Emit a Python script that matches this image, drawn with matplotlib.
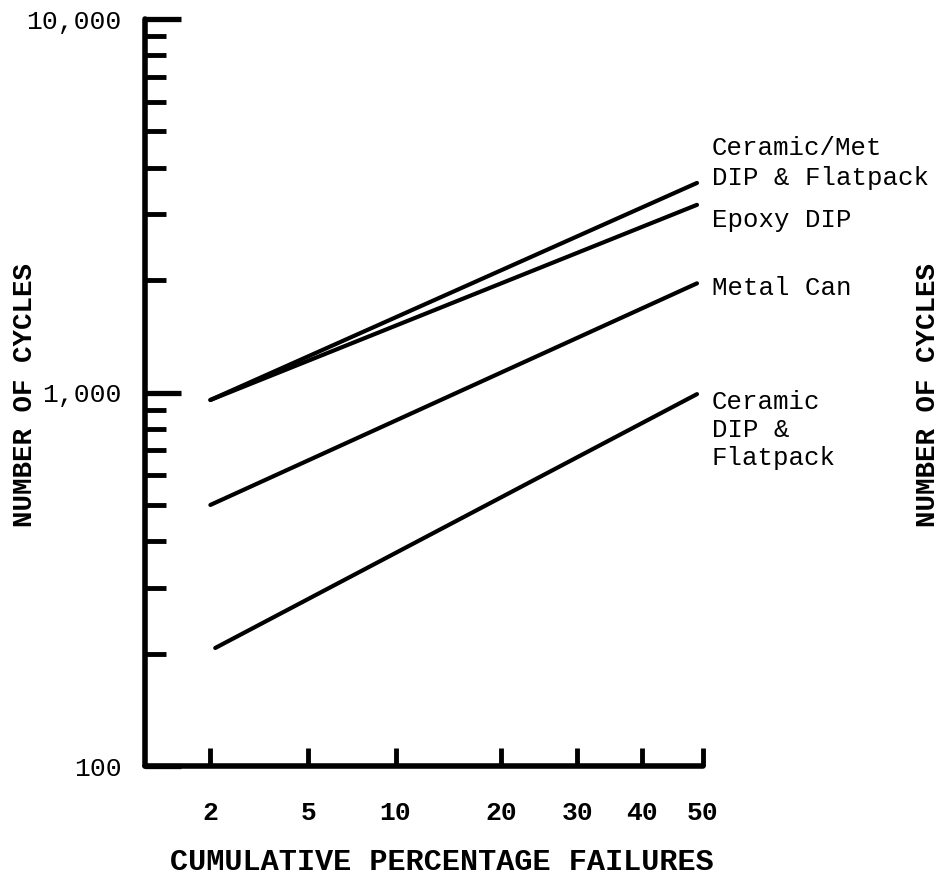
import math
import numpy as np
import matplotlib
matplotlib.use("Agg")
import matplotlib.pyplot as plt
from matplotlib.ticker import FixedLocator, FixedFormatter, NullFormatter

# ---- data ----
series_names = ["Ceramic/Met\nDIP & Flatpack", "Epoxy DIP", "Metal Can", "Ceramic\nDIP &\nFlatpack"]
x_start = [2.0, 2.0, 2.0, 2.1]          # cumulative % failures at line start
x_end = [49.0, 49.0, 49.0, 49.0]        # cumulative % failures at line end
cycles_start = [955, 955, 500, 207]     # number of cycles at start
cycles_end = [3640, 3180, 1960, 990]    # number of cycles at end

x_ticks = [2, 5, 10, 20, 30, 40, 50]
x_tick_labels = ["2", "5", "10", "20", "30", "40", "50"]
y_major = [100, 1000, 10000]
y_major_labels = ["100", "1,000", "10,000"]
y_minor = [200, 300, 400, 500, 600, 700, 800, 900,
           2000, 3000, 4000, 5000, 6000, 7000, 8000, 9000]

# ---- normal probability scale ----
_a = [-3.969683028665376e+01, 2.209460984245205e+02, -2.759285104469687e+02,
      1.383577518672690e+02, -3.066479806614716e+01, 2.506628277459239e+00]
_b = [-5.447609879822406e+01, 1.615858368580409e+02, -1.556989798598866e+02,
      6.680131188771972e+01, -1.328068155288572e+01]
_c = [-7.784894002430293e-03, -3.223964580411365e-01, -2.400758277161838e+00,
      -2.549732539343734e+00, 4.374664141464968e+00, 2.938163982698783e+00]
_d = [7.784695709041462e-03, 3.224671290700398e-01, 2.445134137142996e+00,
      3.754408661907416e+00]


def norm_ppf(p):
    p = np.clip(np.asarray(p, dtype=float), 1e-12, 1 - 1e-12)
    plow = 0.02425
    q_low = np.sqrt(-2 * np.log(np.minimum(p, 0.5)))
    low = (((((_c[0]*q_low+_c[1])*q_low+_c[2])*q_low+_c[3])*q_low+_c[4])*q_low+_c[5]) / \
          ((((_d[0]*q_low+_d[1])*q_low+_d[2])*q_low+_d[3])*q_low+1)
    q_hi = np.sqrt(-2 * np.log(np.minimum(1 - p, 0.5)))
    hi = -(((((_c[0]*q_hi+_c[1])*q_hi+_c[2])*q_hi+_c[3])*q_hi+_c[4])*q_hi+_c[5]) / \
          ((((_d[0]*q_hi+_d[1])*q_hi+_d[2])*q_hi+_d[3])*q_hi+1)
    q = p - 0.5
    r = q * q
    mid = (((((_a[0]*r+_a[1])*r+_a[2])*r+_a[3])*r+_a[4])*r+_a[5])*q / \
          (((((_b[0]*r+_b[1])*r+_b[2])*r+_b[3])*r+_b[4])*r+1)
    return np.where(p < plow, low, np.where(p > 1 - plow, hi, mid))


_erf = np.vectorize(math.erf)


def fwd(x):
    return norm_ppf(np.asarray(x, dtype=float) / 100.0)


def inv(z):
    z = np.asarray(z, dtype=float)
    return 100.0 * 0.5 * (1 + _erf(z / math.sqrt(2)))


# ---- figure ----
FONT = "Liberation Mono"
plt.rcParams["font.family"] = [FONT, "DejaVu Sans"]

fig = plt.figure(figsize=(9.4, 8.91), dpi=100)
ax = fig.add_axes([145 / 940, 1 - 766 / 891, (703 - 145) / 940, (766 - 19) / 891])

ax.set_xscale("function", functions=(fwd, inv))
ax.set_yscale("log")
ax.set_xlim(1, 50)
ax.set_ylim(100, 10000)

for xs, xe, ys, ye in zip(x_start, x_end, cycles_start, cycles_end):
    ax.plot([xs, xe], [ys, ye], color="black", lw=3.0, solid_capstyle="round")

# labels at line ends
label_offsets = [(15, 20, "center", 1.3), (15, -15, "center", 1.2),
                 (15, -5, "center", 1.2), (15, 4, "top", 1.2)]
for name, xe, ye, (dx, dy, va, ls) in zip(series_names, x_end, cycles_end, label_offsets):
    ax.annotate(name, xy=(xe, ye), xytext=(dx, dy), textcoords="offset pixels",
                ha="left", va=va, fontsize=18.5, fontweight="normal", linespacing=ls,
                annotation_clip=False)

# spines
for s in ["top", "right"]:
    ax.spines[s].set_visible(False)
for s in ["left", "bottom"]:
    ax.spines[s].set_linewidth(4)
    ax.spines[s].set_capstyle("round")

# ticks
ax.yaxis.set_major_locator(FixedLocator(y_major))
ax.yaxis.set_major_formatter(FixedFormatter(y_major_labels))
ax.yaxis.set_minor_locator(FixedLocator(y_minor))
ax.yaxis.set_minor_formatter(NullFormatter())
ax.xaxis.set_major_locator(FixedLocator(x_ticks))
ax.xaxis.set_major_formatter(FixedFormatter(x_tick_labels))
ax.xaxis.set_minor_locator(FixedLocator([]))

ax.tick_params(axis="y", which="major", direction="in", length=26, width=3.8,
               pad=17, labelsize=19)
ax.tick_params(axis="y", which="minor", direction="in", length=15, width=3.5)
ax.tick_params(axis="x", which="major", direction="in", length=13, width=3.5,
               pad=25, labelsize=19)
for lab in ax.get_xticklabels():
    lab.set_fontweight("bold")

# axis titles
fig.text(442 / 940, 1 - 862 / 891, "CUMULATIVE PERCENTAGE FAILURES",
         ha="center", va="center", fontsize=21.8, fontweight="bold")
fig.text(25 / 940, 1 - 395 / 891, "NUMBER OF CYCLES", rotation=90,
         ha="center", va="center", fontsize=19.8, fontweight="bold")
fig.text(928 / 940, 1 - 395 / 891, "NUMBER OF CYCLES", rotation=90,
         ha="center", va="center", fontsize=19.8, fontweight="bold")

fig.savefig("out.png", dpi=100)
